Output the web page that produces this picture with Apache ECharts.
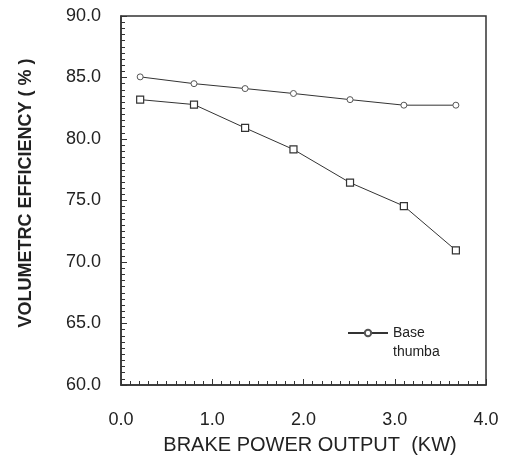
<!DOCTYPE html>
<html>
<head>
<meta charset="utf-8">
<script src="https://cdn.jsdelivr.net/npm/echarts@6/dist/echarts.min.js"></script>
<style>
  html, body { margin: 0; padding: 0; background: #fff; }
  #chart { width: 505px; height: 460px; }
</style>
</head>
<body>
<div id="chart"></div>
<script>
// brake power output (kW) for each reading
var power = [0.21, 0.80, 1.36, 1.89, 2.51, 3.10, 3.67];
// volumetric efficiency (%)
var baseEff = [85.05, 84.5, 84.1, 83.7, 83.2, 82.75, 82.75];
var thumbaEff = [83.2, 82.8, 80.9, 79.15, 76.45, 74.55, 70.95];

function pairs(xs, ys) {
  return xs.map(function (x, i) { return [x, ys[i]]; });
}

var chart = echarts.init(document.getElementById('chart'));
var axisColor = '#333';
var font = 'Liberation Sans';
var option = {
  animation: false,
  grid: {
    left: 121, right: 19, top: 16, bottom: 73,
    show: true, borderColor: axisColor, borderWidth: 1.5
  },
  legend: {
    orient: 'vertical',
    left: 347, top: 326, padding: 0,
    itemWidth: 40, itemHeight: 8, itemGap: 5,
    textStyle: { fontFamily: font, fontSize: 14, color: '#222' },
    data: [
      { name: 'Base' },
      { name: 'thumba', itemStyle: { opacity: 0 }, lineStyle: { opacity: 0 } }
    ]
  },
  xAxis: {
    type: 'value', min: 0, max: 4, interval: 1,
    name: 'BRAKE POWER OUTPUT  (KW)',
    nameLocation: 'middle', nameGap: 50,
    nameTextStyle: { fontFamily: font, fontSize: 20, color: '#222', padding: [0, 0, 0, 13] },
    axisLine: { lineStyle: { color: axisColor, width: 1.5 } },
    axisTick: { inside: true, length: 6, lineStyle: { color: axisColor } },
    minorTick: { show: true, splitNumber: 10, length: 4, lineStyle: { color: axisColor } },
    axisLabel: { margin: 26, fontFamily: font, fontSize: 18, color: '#222',
      formatter: function (v) { return v.toFixed(1); } },
    splitLine: { show: false }
  },
  yAxis: {
    type: 'value', min: 60, max: 90, interval: 5,
    name: 'VOLUMETRC EFFICIENCY ( % )',
    nameLocation: 'middle', nameGap: 86,
    nameTextStyle: { fontFamily: font, fontSize: 18, fontWeight: 'bold', color: '#222', padding: [0, 0, 0, 15] },
    axisLine: { lineStyle: { color: axisColor, width: 1.5 } },
    axisTick: { inside: true, length: 6, lineStyle: { color: axisColor } },
    minorTick: { show: true, splitNumber: 10, length: 4, lineStyle: { color: axisColor } },
    axisLabel: { margin: 20, fontFamily: font, fontSize: 18, color: '#222',
      formatter: function (v) { return v.toFixed(1); } },
    splitLine: { show: false }
  },
  series: [
    {
      name: 'Base', type: 'line', data: pairs(power, baseEff),
      symbol: 'circle', symbolSize: 6,
      lineStyle: { color: '#333', width: 1 },
      itemStyle: { color: '#fff', borderColor: '#555', borderWidth: 1 }
    },
    {
      name: 'thumba', type: 'line', data: pairs(power, thumbaEff),
      symbol: 'rect', symbolSize: 7,
      lineStyle: { color: '#333', width: 1 },
      itemStyle: { color: '#fff', borderColor: '#333', borderWidth: 1.2 }
    }
  ]
};
chart.setOption(option);
</script>
</body>
</html>
